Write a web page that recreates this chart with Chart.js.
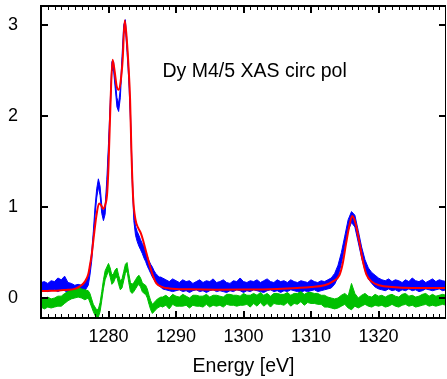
<!DOCTYPE html>
<html>
<head>
<meta charset="utf-8">
<script src="https://cdn.jsdelivr.net/npm/chart.js@4/dist/chart.umd.min.js"></script>
<style>
  html, body { margin: 0; padding: 0; background: #fff; }
  #chart { display: block; }
</style>
</head>
<body>
<canvas id="chart" width="447" height="379"></canvas>
<script>
// sampling of the measured spectra (eV), finer across the M5 edge
function range(a, b, step) {
    const out = [];
    for (let v = a; v <= b + 1e-9; v += step) out.push(Math.round(v * 100) / 100);
    return out;
}
const energy = [].concat(range(1270, 1276.5, 0.5), range(1277, 1287.75, 0.25), range(1288, 1330, 0.5));

// XAS (blue): upper and lower edge of the noisy trace
const blueHi = [
    0.17, 0.18, 0.16, 0.19, 0.18, 0.22, 0.2, 0.24, 0.17, 0.16, 0.14, 0.15, 0.14, 0.18,
    0.25, 0.35, 0.5, 0.73, 1.0, 1.2, 1.31, 1.23, 1.02, 0.95, 1.01, 1.3, 1.7, 2.15, 2.6, 2.6, 2.4, 2.2, 2.14, 2.3, 2.65, 3.0,
    3.06, 2.8, 2.5, 2.05, 1.4, 0.95, 0.79, 0.73, 0.69, 0.64, 0.6, 0.56, 0.5, 0.46, 0.41, 0.37, 0.34, 0.3, 0.27, 0.25, 0.23, 0.23,
    0.22, 0.2, 0.18, 0.21, 0.19, 0.17, 0.2, 0.18, 0.19, 0.16, 0.18, 0.2, 0.17, 0.19, 0.18, 0.21, 0.17, 0.18, 0.2, 0.17,
    0.16, 0.19, 0.18, 0.22, 0.18, 0.17, 0.19, 0.18, 0.2, 0.17, 0.19, 0.21, 0.18, 0.17, 0.2, 0.18, 0.19, 0.17, 0.2, 0.18,
    0.17, 0.19, 0.18, 0.17, 0.2, 0.18, 0.17, 0.19, 0.18, 0.2,
    0.22, 0.27, 0.36, 0.5, 0.68, 0.86, 0.95, 0.91, 0.74, 0.56, 0.42, 0.33, 0.28, 0.25, 0.22,
    0.2, 0.19, 0.21, 0.18, 0.2, 0.19, 0.17, 0.2, 0.18, 0.22, 0.19, 0.18, 0.2, 0.17, 0.19, 0.21, 0.18, 0.2, 0.19, 0.18
];
const blueLo = [
    0.07, 0.08, 0.07, 0.08, 0.09, 0.07, 0.09, 0.08, 0.06, 0.04, 0.03, 0.04, 0.05, 0.08,
    0.14, 0.25, 0.4, 0.63, 0.9, 1.1, 1.22, 1.13, 0.93, 0.85, 0.92, 1.2, 1.6, 2.05, 2.5, 2.5, 2.3, 2.1, 2.05, 2.2, 2.55, 2.9,
    2.96, 2.7, 2.4, 1.95, 1.3, 0.85, 0.69, 0.62, 0.57, 0.53, 0.49, 0.44, 0.4, 0.35, 0.31, 0.27, 0.23, 0.2, 0.17, 0.15, 0.13, 0.12,
    0.1, 0.09, 0.08, 0.07, 0.08, 0.09, 0.07, 0.08, 0.06, 0.08, 0.09, 0.07, 0.08, 0.06, 0.08, 0.09, 0.07, 0.08, 0.07, 0.06,
    0.08, 0.07, 0.09, 0.08, 0.06, 0.08, 0.07, 0.09, 0.08, 0.07, 0.06, 0.08, 0.09, 0.07, 0.08, 0.06, 0.08, 0.07, 0.09, 0.08,
    0.07, 0.06, 0.08, 0.07, 0.08, 0.09, 0.07, 0.08, 0.09, 0.1,
    0.11, 0.15, 0.23, 0.38, 0.56, 0.74, 0.83, 0.78, 0.61, 0.44, 0.3, 0.21, 0.16, 0.12, 0.1,
    0.09, 0.08, 0.1, 0.08, 0.09, 0.07, 0.09, 0.08, 0.1, 0.08, 0.09, 0.07, 0.08, 0.1, 0.09, 0.08, 0.09, 0.1, 0.08, 0.09
];

// XMCD difference (green): upper and lower edge
const greenHi = [
    0.0, -0.01, 0.01, -0.01, 0.0, 0.02, 0.02, 0.05, 0.07, 0.09, 0.1, 0.12, 0.1, 0.09,
    0.08, 0.05, -0.01, -0.07, -0.1, -0.13, -0.12, -0.05, 0.07, 0.2, 0.3, 0.34, 0.38, 0.33, 0.25, 0.27, 0.31, 0.33, 0.25, 0.19, 0.21, 0.29,
    0.37, 0.39, 0.27, 0.17, 0.15, 0.17, 0.2, 0.23, 0.25, 0.22, 0.17, 0.15, 0.14, 0.1, 0.03, -0.03, -0.07, -0.05, -0.03, -0.01, 0.0, 0.01,
    0.01, 0.03, 0.0, 0.04, 0.02, 0.01, 0.04, 0.02, 0.0, 0.03, 0.03, 0.02, 0.02, 0.04, 0.01, 0.03, 0.03, 0.02, 0.01, 0.04,
    0.04, 0.03, 0.03, 0.02, 0.05, 0.03, 0.03, 0.05, 0.03, 0.06, 0.03, 0.05, 0.02, 0.05, 0.05, 0.04, 0.04, 0.06, 0.03, 0.05,
    0.05, 0.07, 0.04, 0.06, 0.06, 0.05, 0.05, 0.03, 0.03, 0.01,
    0.0, -0.01, 0.0, 0.03, 0.05, 0.02, 0.16, 0.05, 0.0, 0.03, 0.05, 0.02, 0.01, 0.04, 0.02,
    0.03, 0.01, 0.03, 0.04, 0.02, 0.01, 0.04, 0.05, 0.02, 0.03, 0.01, 0.02, 0.04, 0.05, 0.02, 0.04, 0.02, 0.03, 0.04, 0.03
];
const greenLo = [
    -0.1, -0.12, -0.1, -0.11, -0.1, -0.09, -0.09, -0.06, -0.03, -0.01, 0.0, 0.01, 0.0, -0.02,
    0.0, -0.05, -0.1, -0.15, -0.19, -0.22, -0.21, -0.15, -0.03, 0.1, 0.2, 0.25, 0.3, 0.23, 0.15, 0.17, 0.22, 0.23, 0.15, 0.09, 0.11, 0.19,
    0.27, 0.3, 0.17, 0.07, 0.05, 0.07, 0.1, 0.13, 0.15, 0.12, 0.07, 0.05, 0.04, 0.0, -0.07, -0.13, -0.17, -0.15, -0.13, -0.11, -0.1, -0.09,
    -0.1, -0.08, -0.12, -0.07, -0.09, -0.09, -0.09, -0.08, -0.11, -0.08, -0.09, -0.09, -0.1, -0.07, -0.1, -0.08, -0.09, -0.08, -0.1, -0.07,
    -0.08, -0.08, -0.09, -0.08, -0.08, -0.07, -0.1, -0.06, -0.09, -0.05, -0.09, -0.06, -0.1, -0.06, -0.07, -0.07, -0.08, -0.05, -0.09, -0.06,
    -0.07, -0.04, -0.08, -0.05, -0.06, -0.06, -0.07, -0.07, -0.1, -0.1,
    -0.11, -0.12, -0.11, -0.09, -0.07, -0.11, -0.13, -0.09, -0.11, -0.09, -0.07, -0.09, -0.1, -0.08, -0.09,
    -0.08, -0.1, -0.09, -0.07, -0.09, -0.1, -0.08, -0.07, -0.09, -0.08, -0.1, -0.09, -0.08, -0.07, -0.09, -0.08, -0.09, -0.08, -0.07, -0.08
];

// fit (red)
const fitE = [
    1270, 1271, 1272, 1273, 1274, 1275, 1275.8, 1276.5, 1277, 1277.25, 1277.5, 1277.8, 1278.2, 1278.6, 1278.9, 1279.2,
    1279.5, 1279.8, 1280, 1280.3, 1280.6, 1280.9, 1281.2, 1281.5, 1281.8, 1282.1, 1282.4, 1282.7, 1283, 1283.2, 1283.4,
    1283.65, 1284, 1284.4, 1284.8, 1285.1, 1285.6, 1286.1, 1286.6, 1287.1, 1288, 1289, 1292, 1296, 1300, 1305, 1308, 1310,
    1312, 1313.2, 1314.2, 1314.7, 1315.2, 1315.7, 1316.1, 1316.6, 1317.2, 1317.7, 1318.2, 1319, 1320.1, 1322, 1325, 1330
];
const fitVal = [
    0.077, 0.078, 0.08, 0.085, 0.09, 0.1, 0.13, 0.18, 0.26, 0.36, 0.47, 0.66, 0.9, 1.04, 1.02, 0.98,
    1.02, 1.15, 1.45, 2.15, 2.62, 2.5, 2.33, 2.29, 2.38, 2.62, 3.05, 2.85, 2.5, 2.18, 1.6,
    1.1, 0.86, 0.77, 0.71, 0.64, 0.5, 0.36, 0.24, 0.16, 0.12, 0.105, 0.095, 0.09, 0.092, 0.1, 0.11, 0.12,
    0.14, 0.18, 0.25, 0.38, 0.6, 0.8, 0.9, 0.82, 0.6, 0.4, 0.26, 0.18, 0.14, 0.12, 0.11, 0.11
];

const xTickLabels = [1280, 1290, 1300, 1310, 1320];
const yTickLabels = [0, 1, 2, 3];
const noteText = 'Dy M4/5 XAS circ pol';

const BLUE = '#0000ff';
const GREEN = '#00c000';
const RED = '#ff0000';
const FONT = '"Liberation Sans", Arial, sans-serif';

function pts(xs, ys) {
    return xs.map((e, i) => ({ x: e, y: ys[i] }));
}

// the scales add their tick padding around the plot; the frame sits flush instead
function noScalePadding(scale) {
    scale.paddingTop = 0;
    scale.paddingBottom = 0;
    scale.paddingLeft = 0;
    scale.paddingRight = 0;
}

// gnuplot-like frame with inward ticks and the in-plot note
const framePlugin = {
    id: 'frame',
    afterDatasetsDraw(chart) {
        const ctx = chart.ctx;
        const a = chart.chartArea;
        const xs = chart.scales.x;
        const ys = chart.scales.y;
        ctx.save();
        ctx.strokeStyle = '#000';

        ctx.lineWidth = 1;
        ctx.beginPath();
        for (let e = 1271; e < 1330; e++) {
            if (e % 10 === 0) continue;
            const px = Math.round(xs.getPixelForValue(e)) + 0.5;
            ctx.moveTo(px, a.bottom); ctx.lineTo(px, a.bottom - 4);
            ctx.moveTo(px, a.top); ctx.lineTo(px, a.top + 4);
        }
        ctx.stroke();

        ctx.lineWidth = 2;
        ctx.beginPath();
        xTickLabels.forEach(e => {
            const px = Math.round(xs.getPixelForValue(e));
            ctx.moveTo(px, a.bottom); ctx.lineTo(px, a.bottom - 7);
            ctx.moveTo(px, a.top); ctx.lineTo(px, a.top + 7);
        });
        yTickLabels.forEach(v => {
            const py = Math.round(ys.getPixelForValue(v));
            ctx.moveTo(a.left, py); ctx.lineTo(a.left + 7, py);
            ctx.moveTo(a.right, py); ctx.lineTo(a.right - 7, py);
        });
        ctx.stroke();

        ctx.lineWidth = 2;
        ctx.beginPath();
        ctx.moveTo(a.right, a.top);
        ctx.lineTo(a.left, a.top);
        ctx.lineTo(a.left, a.bottom);
        ctx.lineTo(a.right, a.bottom);
        ctx.stroke();
        ctx.lineWidth = 1;
        ctx.beginPath();
        ctx.moveTo(a.right - 0.5, a.top);
        ctx.lineTo(a.right - 0.5, a.bottom);
        ctx.stroke();

        ctx.fillStyle = '#000';
        ctx.font = '19.5px ' + FONT;
        ctx.textBaseline = 'alphabetic';
        ctx.textAlign = 'left';
        ctx.fillText(noteText, xs.getPixelForValue(1288.0), ys.getPixelForValue(2.43));
        ctx.restore();
    }
};

Chart.defaults.color = '#000';
Chart.defaults.font.family = FONT;

new Chart(document.getElementById('chart'), {
    type: 'line',
    data: {
        datasets: [
            { label: 'fit', data: pts(fitE, fitVal), borderColor: RED, borderWidth: 2, cubicInterpolationMode: 'monotone', order: 0 },
            { label: 'xmcd hi', data: pts(energy, greenHi), borderColor: GREEN, backgroundColor: GREEN, borderWidth: 1, fill: '+1', order: 1 },
            { label: 'xmcd lo', data: pts(energy, greenLo), borderColor: GREEN, borderWidth: 1, order: 1 },
            { label: 'xas hi', data: pts(energy, blueHi), borderColor: BLUE, backgroundColor: BLUE, borderWidth: 1, fill: '+1', order: 2 },
            { label: 'xas lo', data: pts(energy, blueLo), borderColor: BLUE, borderWidth: 1, order: 2 }
        ]
    },
    options: {
        responsive: false,
        animation: false,
        devicePixelRatio: 1,
        elements: { point: { radius: 0, hoverRadius: 0 }, line: { tension: 0 } },
        layout: { autoPadding: false, padding: { top: 6, right: 1, left: 0, bottom: 0 } },
        plugins: { legend: { display: false }, tooltip: { enabled: false } },
        scales: {
            x: {
                type: 'linear',
                min: 1270,
                max: 1330,
                grid: { display: false, drawTicks: false },
                border: { display: false },
                ticks: {
                    stepSize: 10,
                    autoSkip: false,
                    maxRotation: 0,
                    padding: 8,
                    font: { size: 18 },
                    callback: v => xTickLabels.includes(v) ? String(v) : ''
                },
                title: { display: true, text: 'Energy [eV]', font: { size: 19.5 }, padding: { top: 2, bottom: 1 } },
                afterFit(scale) { scale.height = 61; noScalePadding(scale); }
            },
            y: {
                min: -0.22,
                max: 3.21,
                grid: { display: false, drawTicks: false },
                border: { display: false },
                ticks: {
                    stepSize: 1,
                    includeBounds: false,
                    padding: 23,
                    font: { size: 18 },
                    callback: v => yTickLabels.includes(v) ? String(v) : ''
                },
                afterFit(scale) { scale.width = 41; noScalePadding(scale); }
            }
        }
    },
    plugins: [framePlugin]
});
</script>
</body>
</html>
